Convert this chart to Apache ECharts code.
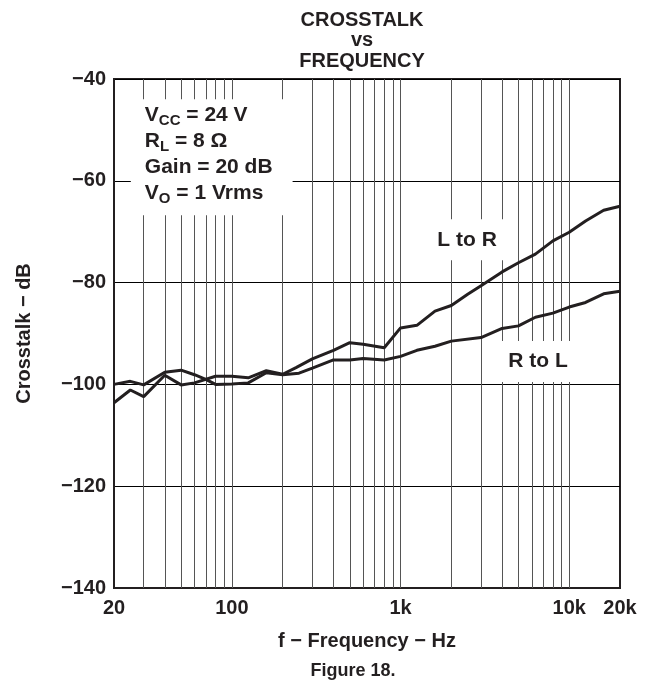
<!DOCTYPE html>
<html>
<head>
<meta charset="utf-8">
<script src="https://cdn.jsdelivr.net/npm/echarts@6/dist/echarts.min.js"></script>
<style>
html,body{margin:0;padding:0;background:#fff;}
#chart{width:658px;height:687px;}
</style>
</head>
<body>
<div id="chart"></div>
<script>
// ---- data ----
var freqLR = [20,25,30,40,50,60,80,100,125,160,200,240,300,400,500,600,800,1000,1250,1600,2000,2500,3000,4000,5000,6300,8000,10000,12500,16000,20000];
var dbLR   = [-103.6,-101.1,-102.4,-98.2,-100.1,-99.7,-98.4,-98.4,-98.7,-97.3,-98.0,-96.7,-95.0,-93.3,-91.8,-92.1,-92.8,-88.9,-88.4,-85.6,-84.5,-82.3,-80.6,-77.9,-76.1,-74.4,-71.8,-70.1,-67.9,-65.8,-65.0];
var freqRL = [20,25,30,40,50,60,70,80,100,125,160,200,250,300,400,500,600,800,1000,1250,1600,2000,3000,4000,5000,6300,8000,10000,12500,16000,20000];
var dbRL   = [-100.0,-99.4,-100.1,-97.6,-97.2,-98.1,-99.0,-100.0,-99.9,-99.7,-97.7,-98.1,-97.8,-96.8,-95.2,-95.2,-94.9,-95.2,-94.5,-93.3,-92.5,-91.5,-90.8,-89.0,-88.5,-86.8,-86.0,-84.8,-83.9,-82.2,-81.7];
var gridFreqs = [30,40,50,60,70,80,90,100,200,300,400,500,600,700,800,900,1000,2000,3000,4000,5000,6000,7000,8000,9000,10000];
var yMin = -140, yMax = -40, yStep = 20;
var seriesNames = ['L to R','R to L'];
var labelLR = {f: 2480, db: -71.6};
var labelRL = {f: 6530, db: -95.5};
var noteAt = {f: 23.5, db: -43.0};

function pairs(fs, ds){ return fs.map(function(f,i){ return [f, ds[i]]; }); }

var FONT = 'Liberation Sans, Arial, Helvetica, sans-serif';
var INK = '#231f20';
var FS = 20;

var chart = echarts.init(document.getElementById('chart'));
var option = {
  animation: false,
  backgroundColor: '#fff',
  title: {
    text: 'CROSSTALK\nvs\nFREQUENCY',
    left: 357, top: 5, textAlign: 'center',
    textStyle: {fontFamily: FONT, fontWeight: 'bold', fontSize: FS, lineHeight: 20.5, color: INK}
  },
  graphic: [{
    type: 'text', x: 353, y: 671,
    style: {text: 'Figure 18.', font: 'bold 18px ' + FONT, fill: INK, textAlign: 'center', textVerticalAlign: 'middle'}
  }],
  grid: {left: 114, right: 38, top: 79, bottom: 99, show: true, borderColor: INK, borderWidth: 2, backgroundColor: 'transparent'},
  xAxis: {
    type: 'log', logBase: 10, min: 20, max: 20000,
    name: 'f − Frequency − Hz', nameLocation: 'middle', nameGap: 43,
    nameTextStyle: {fontFamily: FONT, fontWeight: 'bold', fontSize: FS, color: INK},
    axisLine: {show: true, lineStyle: {color: INK, width: 2}},
    axisTick: {show: false},
    splitLine: {show: false},
    minorTick: {show: false},
    axisLabel: {
      showMinLabel: true, showMaxLabel: true, margin: 10,
      fontFamily: FONT, fontWeight: 'bold', fontSize: FS, color: INK,
      formatter: function(v){ var r = Math.round(v); return r >= 1000 ? (r/1000) + 'k' : String(r); }
    }
  },
  yAxis: {
    type: 'value', min: yMin, max: yMax, interval: yStep,
    name: 'Crosstalk − dB', nameLocation: 'middle', nameGap: 80, nameRotate: 90,
    nameTextStyle: {fontFamily: FONT, fontWeight: 'bold', fontSize: FS, color: INK},
    axisLine: {show: true, lineStyle: {color: INK, width: 2}},
    axisTick: {show: false},
    splitLine: {show: true, lineStyle: {color: '#000', width: 1}},
    axisLabel: {
      margin: 8, fontFamily: FONT, fontWeight: 'bold', fontSize: FS, color: INK,
      formatter: function(v){ return v < 0 ? '−' + Math.abs(v) : String(v); }
    }
  },
  series: [
    {
      name: 'grid', type: 'line', data: [], silent: true, z: 1,
      markLine: {
        silent: true, symbol: ['none','none'], animation: false,
        label: {show: false},
        lineStyle: {color: '#555', width: 1, type: 'solid'},
        data: gridFreqs.map(function(f){ return {xAxis: f}; })
      }
    },
    {
      name: 'notes', type: 'line', data: [], silent: true, z: 3,
      markPoint: {
        symbol: 'rect', symbolSize: 0, silent: true,
        data: [
          {coord: [labelLR.f, labelLR.db], label: {show: true, formatter: seriesNames[0], position: 'inside', fontFamily: FONT, fontWeight: 'bold', fontSize: 21, color: INK, backgroundColor: '#fff', padding: [10,10]}},
          {coord: [labelRL.f, labelRL.db], label: {show: true, formatter: seriesNames[1], position: 'inside', fontFamily: FONT, fontWeight: 'bold', fontSize: 21, color: INK, backgroundColor: '#fff', padding: [10,10]}},
          {coord: [noteAt.f, noteAt.db], label: {
            show: true, position: 'insideTopLeft', align: 'left', verticalAlign: 'top',
            formatter: '{m|V}{s|CC}{m| = 24 V}\n{m|R}{s|L}{m| = 8 Ω}\n{m|Gain = 20 dB}\n{m|V}{s|O}{m| = 1 Vrms}',
            backgroundColor: '#fff', padding: [3, 20, 9, 14],
            rich: {
              m: {fontFamily: FONT, fontWeight: 'bold', fontSize: 21, color: INK, lineHeight: 26},
              s: {fontFamily: FONT, fontWeight: 'bold', fontSize: 15, color: INK, lineHeight: 26, verticalAlign: 'bottom', padding: [9,0,0,0]}
            }
          }}
        ]
      }
    },
    {
      name: seriesNames[0], type: 'line', data: pairs(freqLR, dbLR), z: 5,
      symbol: 'none', lineStyle: {color: INK, width: 3}, itemStyle: {color: INK}
    },
    {
      name: seriesNames[1], type: 'line', data: pairs(freqRL, dbRL), z: 5,
      symbol: 'none', lineStyle: {color: INK, width: 3}, itemStyle: {color: INK}
    }
  ]
};
chart.setOption(option);
</script>
</body>
</html>
